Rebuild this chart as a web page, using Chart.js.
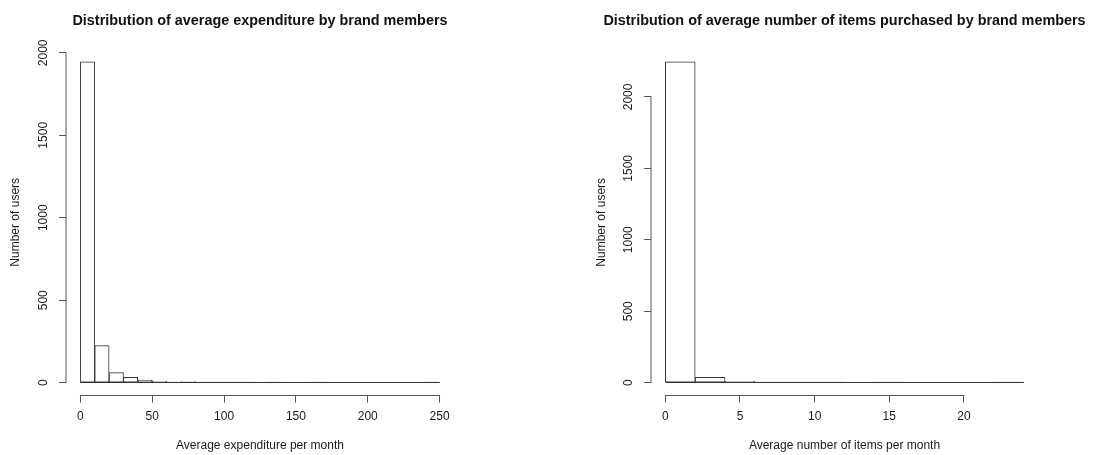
<!DOCTYPE html>
<html>
<head>
<meta charset="utf-8">
<title>Brand member histograms</title>
<script src="https://cdn.jsdelivr.net/npm/chart.js@4.4.1/dist/chart.umd.min.js"></script>
<style>
  html, body { margin: 0; padding: 0; background: #fff; overflow: hidden; width: 1095px; height: 455px; }
  .panel { position: absolute; top: 0; height: 455px; }
  #spendPanel { left: 0; width: 520px; }
  #itemsPanel { left: 594px; width: 501px; }
  canvas { display: block; }
</style>
</head>
<body>
<div class="panel" id="spendPanel"><canvas id="spendChart" width="520" height="455"></canvas></div>
<div class="panel" id="itemsPanel"><canvas id="itemsChart" width="501" height="455"></canvas></div>
<script>
// Average monthly expenditure: bin edges and user counts per bin
const spendBreaks = [0, 10, 20, 30, 40, 50, 60, 70, 80, 90, 100, 110, 120, 130, 140, 150,
                     160, 170, 180, 190, 200, 210, 220, 230, 240, 250];
const spendCounts = [1945, 225, 61, 32, 16, 8, 2, 7, 2, 1, 1, 1, 0, 1, 0, 0,
                     1, 0, 0, 0, 0, 0, 0, 0, 1];
const spendTicks = [0, 50, 100, 150, 200, 250];

// Average monthly number of items: bin edges and user counts per bin
const itemBreaks = [0, 2, 4, 6, 8, 10, 12, 14, 16, 18, 20, 22, 24];
const itemCounts = [2245, 38, 10, 3, 1, 1, 0, 1, 0, 0, 0, 1];
const itemTicks = [0, 5, 10, 15, 20];

// Shared count axis
const userTicks = [0, 500, 1000, 1500, 2000];

const FONT = "'Liberation Sans', Arial, Helvetica, sans-serif";
const TEXT = '#1a1a1a';
const AXIS = '#555';
const BAR_EDGE = '#333';

// Axis lines in the base-graphics style (first tick to last tick only), plus the
// zero line along the full bin range where empty bins collapse to a flat edge
const rAxisLines = {
  id: 'rAxisLines',
  afterDatasetsDraw(chart) {
    const ctx = chart.ctx;
    const xs = chart.scales.x;
    const ys = chart.scales.y;
    const bins = chart.data.datasets[0].breaks;
    const y0 = Math.round(ys.getPixelForValue(0)) - 0.5;
    ctx.save();
    ctx.strokeStyle = BAR_EDGE;
    ctx.lineWidth = 1;
    ctx.beginPath();
    ctx.moveTo(xs.getPixelForValue(bins[0]), y0);
    ctx.lineTo(xs.getPixelForValue(bins[bins.length - 1]), y0);
    ctx.stroke();
    ctx.restore();
  },
  afterDraw(chart) {
    const ctx = chart.ctx;
    const area = chart.chartArea;
    const xs = chart.scales.x;
    const ys = chart.scales.y;
    const xFirst = xs.getPixelForValue(xs.ticks[0].value);
    const xLast = xs.getPixelForValue(xs.ticks[xs.ticks.length - 1].value);
    const yFirst = ys.getPixelForValue(ys.ticks[0].value);
    const yLast = ys.getPixelForValue(ys.ticks[ys.ticks.length - 1].value);
    ctx.save();
    ctx.strokeStyle = AXIS;
    ctx.lineWidth = 1;
    ctx.beginPath();
    ctx.moveTo(xFirst - 0.5, area.bottom);
    ctx.lineTo(xLast + 0.5, area.bottom);
    ctx.moveTo(area.left, yFirst + 0.5);
    ctx.lineTo(area.left, yLast - 0.5);
    ctx.stroke();
    ctx.restore();
  }
};

function fixedTicks(values) {
  return scale => { scale.ticks = values.map(v => ({ value: v })); };
}

function histogram(canvasId, breaks, counts, xTicks, mainTitle, xLabel, sideWidth, yTitlePad) {
  const points = counts.map((c, i) => ({ x: (breaks[i] + breaks[i + 1]) / 2, y: c }));
  const lo = breaks[0];
  const hi = breaks[breaks.length - 1];
  const xPad = 0.04 * (hi - lo);
  const yTop = Math.max(...counts);

  return new Chart(document.getElementById(canvasId), {
    type: 'bar',
    data: {
      datasets: [{
        data: points,
        breaks: breaks,
        xAxisID: 'x',
        yAxisID: 'y',
        backgroundColor: '#fff',
        borderColor: BAR_EDGE,
        borderWidth: 1,
        borderSkipped: false,
        barPercentage: 1,
        categoryPercentage: 1
      }]
    },
    options: {
      responsive: false,
      animation: false,
      events: [],
      layout: { padding: 0 },
      plugins: {
        legend: { display: false },
        tooltip: { enabled: false },
        title: {
          display: true,
          text: mainTitle,
          color: '#111',
          font: { family: FONT, size: 14.4, weight: 'bold', lineHeight: 1.2 },
          padding: { top: 12.4, bottom: 19.4 }
        }
      },
      scales: {
        x: {
          type: 'linear',
          position: 'bottom',
          offset: false,
          min: lo - xPad,
          max: hi + xPad,
          afterBuildTicks: fixedTicks(xTicks),
          afterFit: s => { s.height = 59.5; },
          grid: { drawOnChartArea: false, drawTicks: true, tickLength: 7, color: AXIS, offset: false },
          border: { display: false },
          ticks: {
            autoSkip: false, minRotation: 0, maxRotation: 0, padding: 6.8,
            color: TEXT, font: { family: FONT, size: 12 },
            callback: v => String(v)
          },
          title: {
            display: true, text: xLabel, color: TEXT,
            font: { family: FONT, size: 12, lineHeight: 1.2 },
            padding: { top: 0, bottom: 1.8 }
          }
        },
        y: {
          type: 'linear',
          position: 'left',
          min: -0.04 * yTop,
          max: 1.04 * yTop,
          afterBuildTicks: fixedTicks(userTicks),
          afterFit: s => { s.width = sideWidth; },
          grid: { drawOnChartArea: false, drawTicks: true, tickLength: 7, color: AXIS },
          border: { display: false },
          ticks: {
            autoSkip: false, minRotation: 90, maxRotation: 90, crossAlign: 'center', padding: 1.5,
            color: TEXT, font: { family: FONT, size: 12 },
            callback: v => String(v)
          },
          title: {
            display: true, text: 'Number of users', color: TEXT,
            font: { family: FONT, size: 12, lineHeight: 1.2 },
            padding: { top: yTitlePad, bottom: 0 }
          }
        },
        yRight: {
          type: 'linear',
          position: 'right',
          grid: { display: false },
          border: { display: false },
          ticks: { display: false },
          afterFit: s => { s.width = sideWidth; }
        }
      }
    },
    plugins: [rAxisLines]
  });
}

histogram('spendChart', spendBreaks, spendCounts, spendTicks,
  'Distribution of average expenditure by brand members',
  'Average expenditure per month', 66, 8.3);

histogram('itemsChart', itemBreaks, itemCounts, itemTicks,
  'Distribution of average number of items purchased by brand members',
  'Average number of items per month', 57, 0.6);
</script>
</body>
</html>
